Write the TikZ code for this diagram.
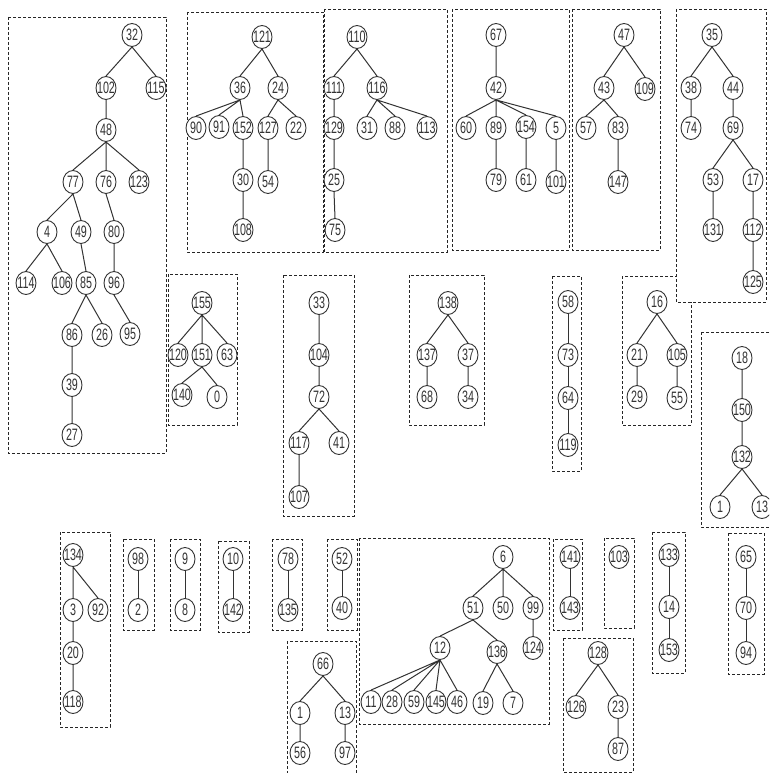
\documentclass[tikz,border=0pt]{standalone}
\usepackage{fontspec}
\newfontfamily\numfont[FakeStretch=0.65]{Liberation Sans}
\usepackage{tikz}
\usetikzlibrary{shapes.geometric}
\definecolor{ink}{HTML}{333333}
\tikzset{vx/.style={ellipse,draw=ink,line width=0.9pt,fill=white,minimum width=20pt,minimum height=23pt,inner sep=0pt,text=ink,font=\numfont\fontsize{16.5}{16.5}\selectfont,execute at begin node={\hbox to 0pt\bgroup\hss},execute at end node={\hss\egroup}}, lk/.style={draw=ink,line width=1pt}, grp/.style={draw=black!85,line width=0.9pt,dash pattern=on 3pt off 2pt,fill=white}}

\begin{document}
\begin{tikzpicture}[x=1pt,y=-1pt]
\useasboundingbox (0,0) rectangle (769,773);
\clip (0,0) rectangle (769,773);
\draw[grp] (8,17) rectangle (166,453);
\draw[grp] (187,12) rectangle (323,252);
\draw[grp] (324,9) rectangle (447,252);
\draw[grp] (452,9) rectangle (569,250);
\draw[grp] (572,9) rectangle (660,250);
\draw[grp] (622,276) rectangle (691,425);
\draw[grp] (676,9) rectangle (766,302);
\draw[grp] (168,274) rectangle (237,425);
\draw[grp] (283,275) rectangle (354,516);
\draw[grp] (409,275) rectangle (484,425);
\draw[grp] (552,276) rectangle (581,471);
\draw[grp] (701,332) rectangle (780,527);
\draw[grp] (60,532) rectangle (110,727);
\draw[grp] (123,539) rectangle (154,630);
\draw[grp] (170,539) rectangle (200,630);
\draw[grp] (218,541) rectangle (249,632);
\draw[grp] (272,539) rectangle (302,630);
\draw[grp] (327,539) rectangle (357,630);
\draw[grp] (287,641) rectangle (356,780);
\draw[grp] (359,538) rectangle (549,724);
\draw[grp] (553,539) rectangle (582,630);
\draw[grp] (604,538) rectangle (634,628);
\draw[grp] (563,638) rectangle (633,772);
\draw[grp] (652,532) rectangle (685,673);
\draw[grp] (728,533) rectangle (764,674);

\node[vx] (v32) at (132,35) {32};
\node[vx] (v102) at (106,88) {102};
\node[vx] (v115) at (156,88) {115};
\node[vx] (v48) at (106,130) {48};
\node[vx] (v77) at (73,182) {77};
\node[vx] (v76) at (106,182) {76};
\node[vx] (v123) at (139,182) {123};
\node[vx] (v4) at (47,232) {4};
\node[vx] (v49) at (81,232) {49};
\node[vx] (v80) at (114,232) {80};
\node[vx] (v114) at (26,283) {114};
\node[vx] (v106) at (62,283) {106};
\node[vx] (v85) at (86,283) {85};
\node[vx] (v96) at (114,283) {96};
\node[vx] (v86) at (72,335) {86};
\node[vx] (v26) at (102,335) {26};
\node[vx] (v95) at (130,334) {95};
\node[vx] (v39) at (72,385) {39};
\node[vx] (v27) at (72,435) {27};
\draw[lk] (v32.south)--(v102.north) (v32.south)--(v115.north) (v102.south)--(v48.north)
  (v48.south)--(v77.north) (v48.south)--(v76.north) (v48.south)--(v123.north)
  (v77.south)--(v4.north) (v77.south)--(v49.north) (v76.south)--(v80.north)
  (v4.south)--(v114.north) (v4.south)--(v106.north) (v49.south)--(v85.north) (v80.south)--(v96.north)
  (v85.south)--(v86.north) (v85.south)--(v26.north) (v96.south)--(v95.north)
  (v86.south)--(v39.north) (v39.south)--(v27.north);

\node[vx] (v121) at (262,37) {121};
\node[vx] (v36) at (240,88) {36};
\node[vx] (v24) at (278,88) {24};
\node[vx] (v90) at (196,128) {90};
\node[vx] (v91) at (219,127) {91};
\node[vx] (v152) at (243,128) {152};
\node[vx] (v127) at (268,128) {127};
\node[vx] (v22) at (296,128) {22};
\node[vx] (v30) at (243,180) {30};
\node[vx] (v54) at (268,182) {54};
\node[vx] (v108) at (243,230) {108};
\draw[lk] (v121.south)--(v36.north) (v121.south)--(v24.north)
  (v36.south)--(v90.north) (v36.south)--(v91.north) (v36.south)--(v152.north)
  (v24.south)--(v127.north) (v24.south)--(v22.north)
  (v152.south)--(v30.north) (v127.south)--(v54.north) (v30.south)--(v108.north);

\node[vx] (v110) at (357,37) {110};
\node[vx] (v111) at (334,88) {111};
\node[vx] (v116) at (377,88) {116};
\node[vx] (v129) at (334,128) {129};
\node[vx] (v31) at (367,128) {31};
\node[vx] (v88) at (395,128) {88};
\node[vx] (v113) at (427,128) {113};
\node[vx] (v25) at (334,180) {25};
\node[vx] (v75) at (335,230) {75};
\draw[lk] (v110.south)--(v111.north) (v110.south)--(v116.north) (v111.south)--(v129.north)
  (v116.south)--(v31.north) (v116.south)--(v88.north) (v116.south)--(v113.north)
  (v129.south)--(v25.north) (v25.south)--(v75.north);

\node[vx] (v67) at (496,35) {67};
\node[vx] (v42) at (496,88) {42};
\node[vx] (v60) at (466,128) {60};
\node[vx] (v89) at (496,128) {89};
\node[vx] (v154) at (526,127) {154};
\node[vx] (v5) at (556,128) {5};
\node[vx] (v79) at (496,180) {79};
\node[vx] (v61) at (526,180) {61};
\node[vx] (v101) at (556,182) {101};
\draw[lk] (v67.south)--(v42.north)
  (v42.south)--(v60.north) (v42.south)--(v89.north) (v42.south)--(v154.north) (v42.south)--(v5.north)
  (v89.south)--(v79.north) (v154.south)--(v61.north) (v5.south)--(v101.north);

\node[vx] (v47) at (624,35) {47};
\node[vx] (v43) at (604,88) {43};
\node[vx] (v109) at (645,89) {109};
\node[vx] (v57) at (586,128) {57};
\node[vx] (v83) at (618,128) {83};
\node[vx] (v147) at (618,182) {147};
\draw[lk] (v47.south)--(v43.north) (v47.south)--(v109.north)
  (v43.south)--(v57.north) (v43.south)--(v83.north) (v83.south)--(v147.north);

\node[vx] (v35) at (712,35) {35};
\node[vx] (v38) at (691,88) {38};
\node[vx] (v44) at (733,88) {44};
\node[vx] (v74) at (691,128) {74};
\node[vx] (v69) at (733,128) {69};
\node[vx] (v53) at (713,180) {53};
\node[vx] (v17) at (753,180) {17};
\node[vx] (v131) at (713,230) {131};
\node[vx] (v112) at (753,230) {112};
\node[vx] (v125) at (753,282) {125};
\draw[lk] (v35.south)--(v38.north) (v35.south)--(v44.north) (v38.south)--(v74.north) (v44.south)--(v69.north)
  (v69.south)--(v53.north) (v69.south)--(v17.north) (v53.south)--(v131.north)
  (v17.south)--(v112.north) (v112.south)--(v125.north);

\node[vx] (v155) at (202,303) {155};
\node[vx] (v120) at (178,355) {120};
\node[vx] (v151) at (202,355) {151};
\node[vx] (v63) at (227,355) {63};
\node[vx] (v140) at (182,395) {140};
\node[vx] (v0) at (217,397) {0};
\draw[lk] (v155.south)--(v120.north) (v155.south)--(v151.north) (v155.south)--(v63.north)
  (v151.south)--(v140.north) (v151.south)--(v0.north);

\node[vx] (v33) at (319,303) {33};
\node[vx] (v104) at (319,355) {104};
\node[vx] (v72) at (319,397) {72};
\node[vx] (v117) at (299,443) {117};
\node[vx] (v41) at (339,443) {41};
\node[vx] (v107) at (299,497) {107};
\draw[lk] (v33.south)--(v104.north) (v104.south)--(v72.north)
  (v72.south)--(v117.north) (v72.south)--(v41.north) (v117.south)--(v107.north);

\node[vx] (v138) at (448,303) {138};
\node[vx] (v137) at (427,355) {137};
\node[vx] (v37) at (468,355) {37};
\node[vx] (v68) at (427,397) {68};
\node[vx] (v34) at (468,397) {34};
\draw[lk] (v138.south)--(v137.north) (v138.south)--(v37.north)
  (v137.south)--(v68.north) (v37.south)--(v34.north);

\node[vx] (v58) at (568,302) {58};
\node[vx] (v73) at (568,355) {73};
\node[vx] (v64) at (568,398) {64};
\node[vx] (v119) at (568,445) {119};
\draw[lk] (v58.south)--(v73.north) (v73.south)--(v64.north) (v64.south)--(v119.north);

\node[vx] (v16) at (657,302) {16};
\node[vx] (v21) at (637,355) {21};
\node[vx] (v105) at (677,355) {105};
\node[vx] (v29) at (637,397) {29};
\node[vx] (v55) at (677,398) {55};
\draw[lk] (v16.south)--(v21.north) (v16.south)--(v105.north)
  (v21.south)--(v29.north) (v105.south)--(v55.north);

\node[vx] (v18) at (742,358) {18};
\node[vx] (v150) at (742,410) {150};
\node[vx] (v132) at (742,457) {132};
\node[vx] (v1) at (720,507) {1};
\node[vx] (v13) at (762,507) {13};
\draw[lk] (v18.south)--(v150.north) (v150.south)--(v132.north)
  (v132.south)--(v1.north) (v132.south)--(v13.north);

\node[vx] (v134) at (73,555) {134};
\node[vx] (v3) at (73,610) {3};
\node[vx] (v92) at (98,610) {92};
\node[vx] (v20) at (73,653) {20};
\node[vx] (v118) at (73,702) {118};
\draw[lk] (v134.south)--(v3.north) (v134.south)--(v92.north) (v3.south)--(v20.north) (v20.south)--(v118.north);

\node[vx] (v98) at (138,559) {98};
\node[vx] (v2) at (138,610) {2};
\node[vx] (v9) at (185,559) {9};
\node[vx] (v8) at (185,610) {8};
\node[vx] (v10) at (233,559) {10};
\node[vx] (v142) at (233,610) {142};
\node[vx] (v78) at (288,559) {78};
\node[vx] (v135) at (288,610) {135};
\node[vx] (v52) at (342,559) {52};
\node[vx] (v40) at (342,608) {40};
\draw[lk] (v98.south)--(v2.north) (v9.south)--(v8.north) (v10.south)--(v142.north)
  (v78.south)--(v135.north) (v52.south)--(v40.north);

\node[vx] (v66) at (323,664) {66};
\node[vx] (v1b) at (300,713) {1};
\node[vx] (v13b) at (345,713) {13};
\node[vx] (v56) at (300,753) {56};
\node[vx] (v97) at (345,753) {97};
\draw[lk] (v66.south)--(v1b.north) (v66.south)--(v13b.north) (v1b.south)--(v56.north) (v13b.south)--(v97.north);

\node[vx] (v6) at (503,557) {6};
\node[vx] (v51) at (473,608) {51};
\node[vx] (v50) at (503,608) {50};
\node[vx] (v99) at (533,608) {99};
\node[vx] (v12) at (440,648) {12};
\node[vx] (v136) at (497,652) {136};
\node[vx] (v124) at (533,648) {124};
\node[vx] (v11) at (371,702) {11};
\node[vx] (v28) at (392,702) {28};
\node[vx] (v59) at (414,702) {59};
\node[vx] (v145) at (436,702) {145};
\node[vx] (v46) at (457,702) {46};
\node[vx] (v19) at (483,703) {19};
\node[vx] (v7) at (513,703) {7};
\draw[lk] (v6.south)--(v51.north) (v6.south)--(v50.north) (v6.south)--(v99.north)
  (v51.south)--(v12.north) (v51.south)--(v136.north) (v99.south)--(v124.north)
  (v12.south)--(v11.north) (v12.south)--(v28.north) (v12.south)--(v59.north) (v12.south)--(v145.north) (v12.south)--(v46.north)
  (v136.south)--(v19.north) (v136.south)--(v7.north);

\node[vx] (v141) at (570,557) {141};
\node[vx] (v143) at (570,608) {143};
\node[vx] (v103) at (619,557) {103};
\draw[lk] (v141.south)--(v143.north);

\node[vx] (v128) at (598,653) {128};
\node[vx] (v126) at (576,707) {126};
\node[vx] (v23) at (618,707) {23};
\node[vx] (v87) at (618,749) {87};
\draw[lk] (v128.south)--(v126.north) (v128.south)--(v23.north) (v23.south)--(v87.north);

\node[vx] (v133) at (669,555) {133};
\node[vx] (v14) at (669,607) {14};
\node[vx] (v153) at (669,650) {153};
\draw[lk] (v133.south)--(v14.north) (v14.south)--(v153.north);

\node[vx] (v65) at (746,557) {65};
\node[vx] (v70) at (746,608) {70};
\node[vx] (v94) at (746,653) {94};
\draw[lk] (v65.south)--(v70.north) (v70.south)--(v94.north);
\end{tikzpicture}
\end{document}
